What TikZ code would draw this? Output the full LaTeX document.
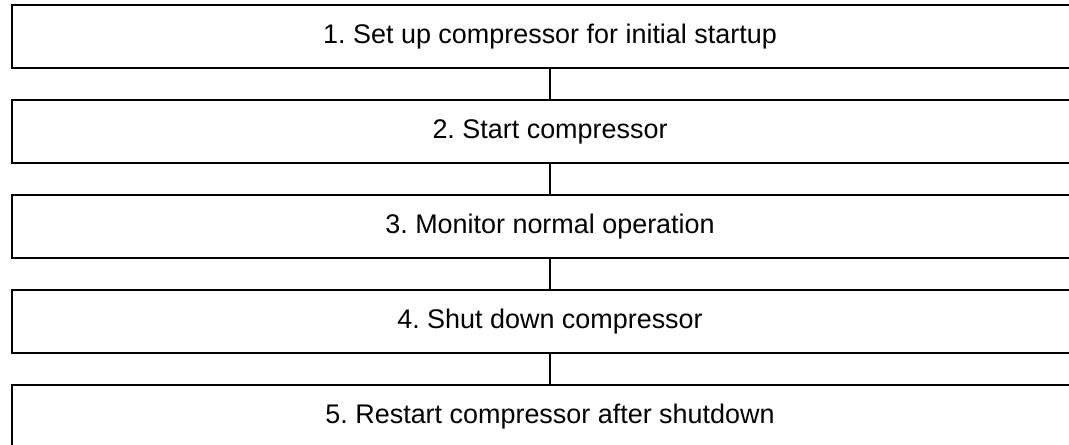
\documentclass[tikz,border=0pt]{standalone}
\usepackage{fontspec}
\setmainfont{Liberation Sans}
\frenchspacing
\begin{document}
\begin{tikzpicture}[x=0.75pt,y=-0.75pt,
  stepbox/.style={draw=black, line width=1.2pt, minimum width=807pt, minimum height=47.25pt, inner sep=0pt, font=\fontsize{20.2pt}{24pt}\selectfont, anchor=center},
  link/.style={draw=black, line width=1pt}]
\useasboundingbox (0,0) rectangle (1069,444);
\clip (0,0) rectangle (1069,444);
\node[stepbox] (b1) at (550,36.5) {1. Set up compressor for initial startup};
\node[stepbox] (b2) at (550,131.5) {2. Start compressor};
\node[stepbox] (b3) at (550,226.5) {3. Monitor normal operation};
\node[stepbox] (b4) at (550,321.5) {4. Shut down compressor};
\node[stepbox] (b5) at (550,416.5) {5. Restart compressor after shutdown};
\draw[link] (b1.south) -- (b2.north);
\draw[link] (b2.south) -- (b3.north);
\draw[link] (b3.south) -- (b4.north);
\draw[link] (b4.south) -- (b5.north);
\end{tikzpicture}
\end{document}
